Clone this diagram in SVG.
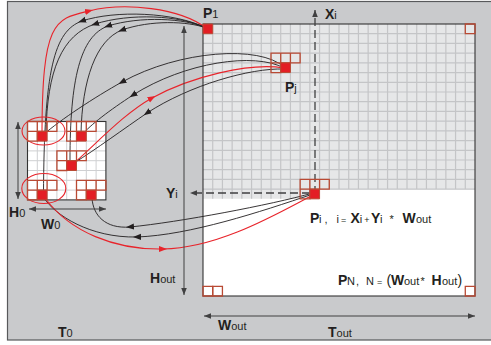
<svg xmlns="http://www.w3.org/2000/svg" width="491" height="345" viewBox="0 0 491 345">
<defs>
<style>
.bg{fill:#c9cacc;stroke:#58595b;stroke-width:1.2}
.gl{fill:none;stroke:#c4c5c7;stroke-width:1.2}
.sgl{fill:none;stroke:#cfd0d2;stroke-width:1}
.oc{fill:none;stroke:#b94a34;stroke-width:1.3}
.fc{fill:#e31e24;stroke:#b94a34;stroke-width:1}
.bd{fill:none;stroke:#333;stroke-width:1.1}
.k{fill:none;stroke:#231f20;stroke-width:0.9;marker-mid:url(#mk)}
.r{fill:none;stroke:#e8242b;stroke-width:1.1;marker-mid:url(#mr)}
.dim{fill:none;stroke:#404041;stroke-width:1;marker-start:url(#ma);marker-end:url(#ma)}
.dsh{fill:none;stroke:#404041;stroke-width:1.3;stroke-dasharray:8 4;marker-end:url(#ma)}
text{font-family:"Liberation Sans",Arial,sans-serif;fill:#231f20}
.b{font-weight:bold;font-size:14px}
.s{font-size:11px;font-weight:normal}
.t{font-size:9px;font-weight:normal}
.n{font-size:14px;font-weight:normal}
</style>
<marker id="mk" viewBox="0 0 10 10" refX="5" refY="5" markerWidth="8" markerHeight="8" markerUnits="userSpaceOnUse" orient="auto"><path d="M0,1.2L10,5L0,8.8z" fill="#231f20"/></marker>
<marker id="mr" viewBox="0 0 10 10" refX="5" refY="5" markerWidth="8" markerHeight="8" markerUnits="userSpaceOnUse" orient="auto"><path d="M0,1.2L10,5L0,8.8z" fill="#e8242b"/></marker>
<marker id="ma" viewBox="0 0 10 10" refX="10" refY="5" markerWidth="7" markerHeight="7" markerUnits="userSpaceOnUse" orient="auto-start-reverse"><path d="M0,1L10,5L0,9z" fill="#404041"/></marker>
</defs>
<rect class="bg" x="7.5" y="1.5" width="490" height="338.5"/>

<g id="Tout">
<rect x="203" y="24" width="272" height="272" fill="#fff"/>
<g transform="translate(203,24) scale(9.7142857)">
<path d="M0,0H28V17H11V18H0z" fill="#e6e7e8"/>
<path class="gl" vector-effect="non-scaling-stroke" d="M1,0V18M2,0V18M3,0V18M4,0V18M5,0V18M6,0V18M7,0V18M8,0V18M9,0V18M10,0V18M11,0V18M12,0V17M13,0V17M14,0V17M15,0V17M16,0V17M17,0V17M18,0V17M19,0V17M20,0V17M21,0V17M22,0V17M23,0V17M24,0V17M25,0V17M26,0V17M27,0V17M0,1H28M0,2H28M0,3H28M0,4H28M0,5H28M0,6H28M0,7H28M0,8H28M0,9H28M0,10H28M0,11H28M0,12H28M0,13H28M0,14H28M0,15H28M0,16H28M0,17H28"/>
</g>
<rect class="bd" x="203" y="24" width="272" height="272"/>
</g>

<g id="T0">
<rect x="27.5" y="121.5" width="78.4" height="78.4" fill="#fff"/>
<g transform="translate(27.5,121.5) scale(9.8)">
<path class="sgl" vector-effect="non-scaling-stroke" d="M1,0V8M2,0V8M3,0V8M4,0V8M5,0V8M6,0V8M7,0V8M0,1H8M0,2H8M0,3H8M0,4H8M0,5H8M0,6H8M0,7H8"/>
</g>
<rect class="bd" x="27.5" y="121.5" width="78.4" height="78.4"/>
</g>

<g id="connectors">
<path class="r" d="M42,136C42,20 55,19 89,11C125,2 180,8 206,28"/>
<path class="k" d="M206,28C175,12 115,10 82,21C54,31 44,70 43.5,195"/>
<path class="k" d="M206,28C180,15 130,13 95,24C62,35 47,70 46,134"/>
<path class="k" d="M206,28C185,18 140,16 108,26C80,36 70,80 70,160"/>
<path class="k" d="M206,28C188,21 150,20 122,30C96,40 82,80 81,134"/>
<path class="k" d="M284,67C260,45 180,50 122,82C95,97 60,120 43,135"/>
<path class="k" d="M284,68C255,52 185,62 133,95C110,110 90,125 82,135"/>
<path class="r" d="M72,165C100,140 125,113 152,98C190,77 250,62 284,68"/>
<path class="k" d="M284,69C250,68 190,85 147,113C125,128 95,150 74,163"/>
<path class="k" d="M313,193C270,205 180,222 130,227C105,229 93,215 92,198"/>
<path class="k" d="M313,194C260,212 190,235 137,237C90,238 55,215 44,198"/>
<path class="r" d="M45,198C70,232 115,250 163,249C220,248 280,212 313,195"/>
<path class="dim" d="M18,122V199"/>
<path class="dim" d="M29,209H106"/>
<path class="dim" d="M184,26V295"/>
<path class="dim" d="M204,316H475"/>
<path class="dsh" d="M310,193H190"/>
<path class="dsh" d="M315,194V10"/>
<ellipse cx="43.5" cy="131" rx="21.5" ry="14" fill="none" stroke="#e8242b" stroke-width="1.1"/>
<ellipse cx="43.8" cy="188.5" rx="22" ry="15" fill="none" stroke="#e8242b" stroke-width="1.1"/>
</g>

<g id="cells-out" transform="translate(203,24) scale(9.7142857)">
<rect class="fc" vector-effect="non-scaling-stroke" x="0" y="0" width="1" height="1"/>
<rect class="oc" vector-effect="non-scaling-stroke" x="27" y="0" width="1" height="1"/>
<rect class="oc" vector-effect="non-scaling-stroke" x="0" y="27" width="1" height="1"/>
<rect class="oc" vector-effect="non-scaling-stroke" x="1" y="27" width="1" height="1"/>
<rect class="oc" vector-effect="non-scaling-stroke" x="27" y="27" width="1" height="1"/>
<path class="oc" vector-effect="non-scaling-stroke" d="M7,3H10V4H7zM8,3V4M9,3V4M7,4H8V5H7z"/>
<rect class="fc" vector-effect="non-scaling-stroke" x="8" y="4" width="1" height="1"/>
<path class="oc" vector-effect="non-scaling-stroke" d="M10,16H13V17H10zM11,16V17M12,16V17M10,17H11V18H10z"/>
<rect class="fc" vector-effect="non-scaling-stroke" x="11" y="17" width="1" height="1"/>
</g>

<g id="cells-in" transform="translate(27.5,121.5) scale(9.8)">
<path class="oc" vector-effect="non-scaling-stroke" d="M0,0H3V1H0zM1,0V1M2,0V1M0,1H1V2H0z"/>
<rect class="fc" vector-effect="non-scaling-stroke" x="1" y="1" width="1" height="1"/>
<path class="oc" vector-effect="non-scaling-stroke" d="M4,0H7V1H4zM5,0V1M6,0V1M4,1H5V2H4z"/>
<rect class="fc" vector-effect="non-scaling-stroke" x="5" y="1" width="1" height="1"/>
<path class="oc" vector-effect="non-scaling-stroke" d="M3,3H6V4H3zM4,3V4M5,3V4M3,4H4V5H3z"/>
<rect class="fc" vector-effect="non-scaling-stroke" x="4" y="4" width="1" height="1"/>
<path class="oc" vector-effect="non-scaling-stroke" d="M0,6H3V7H0zM1,6V7M2,6V7M0,7H1V8H0z"/>
<rect class="fc" vector-effect="non-scaling-stroke" x="1" y="7" width="1" height="1"/>
<path class="oc" vector-effect="non-scaling-stroke" d="M5,6H8V7H5zM6,6V7M7,6V7M5,7H6V8H5z"/>
<rect class="fc" vector-effect="non-scaling-stroke" x="6" y="7" width="1" height="1"/>
</g>

<g id="labels">
<text x="203" y="18" class="b">P<tspan class="s">1</tspan></text>
<text x="325" y="19" class="b">X<tspan class="s">i</tspan></text>
<text x="285" y="92" class="b">P<tspan class="s">j</tspan></text>
<text x="166" y="198" class="b">Y<tspan class="s">i</tspan></text>
<text x="9" y="217" class="b">H<tspan class="s">0</tspan></text>
<text x="41" y="229" class="b">W<tspan class="s">0</tspan></text>
<text x="150" y="283" class="b">H<tspan class="s">out</tspan></text>
<text x="218" y="330" class="b">W<tspan class="s">out</tspan></text>
<text x="328" y="337" class="b">T<tspan class="s">out</tspan></text>
<text x="58" y="337" class="b">T<tspan class="s">0</tspan></text>
<text y="223" class="b"><tspan x="310">P</tspan><tspan class="s" x="319">i</tspan><tspan class="s" x="324.5">,</tspan><tspan class="s" x="336.5">i</tspan><tspan class="t" x="341">=</tspan><tspan x="350.5">X</tspan><tspan class="s" x="359.8">i</tspan><tspan class="t" x="364.2">+</tspan><tspan x="371">Y</tspan><tspan class="s" x="380">i</tspan><tspan class="s" x="389.5">*</tspan><tspan x="402.5">W</tspan><tspan class="s" x="416">out</tspan></text>
<text y="285" class="b"><tspan x="338">P</tspan><tspan class="s" x="347">N</tspan><tspan class="s" x="356">,</tspan><tspan class="s" x="366">N</tspan><tspan class="t" x="377">=</tspan><tspan class="n" x="386.5">(</tspan><tspan x="391">W</tspan><tspan class="s" x="404">out</tspan><tspan class="s" x="420.5">*</tspan><tspan x="431.5">H</tspan><tspan class="s" x="442">out</tspan><tspan class="n" x="457.5">)</tspan></text>
</g>
</svg>
